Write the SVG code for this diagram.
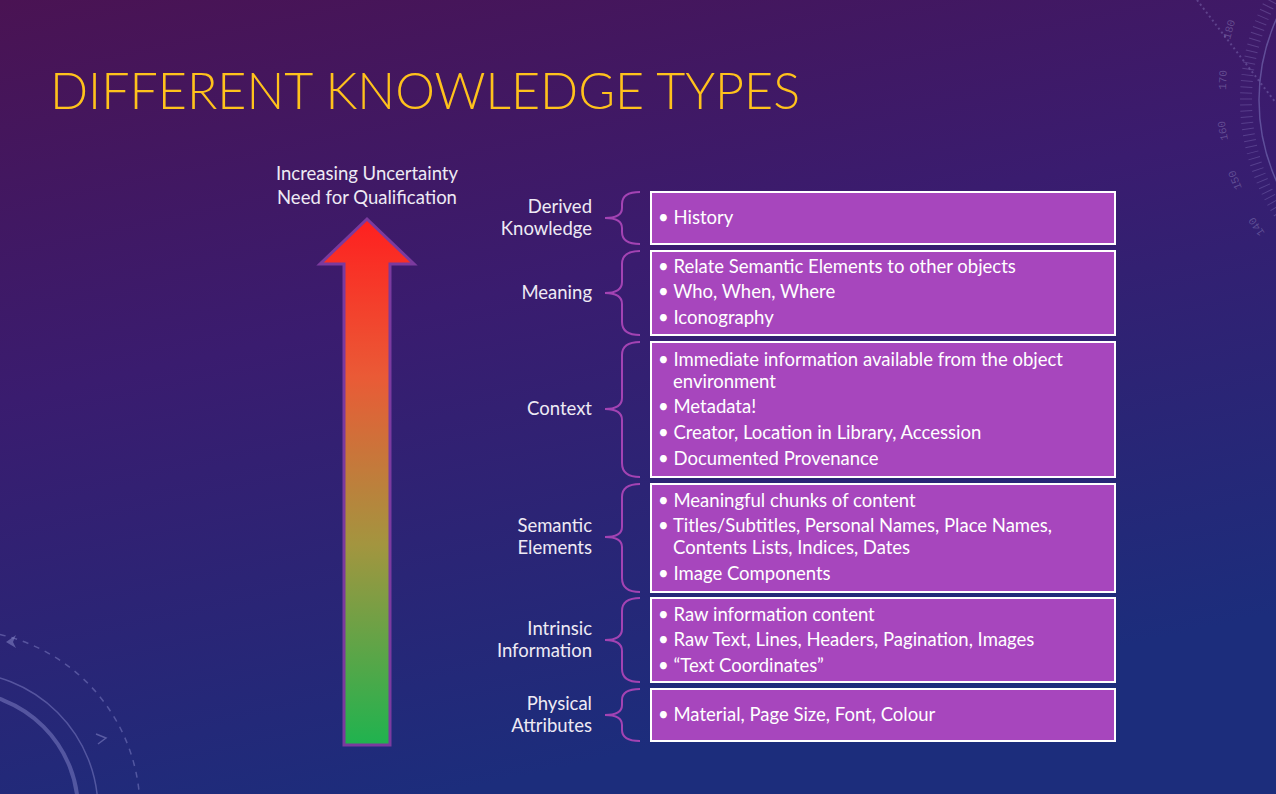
<svg xmlns="http://www.w3.org/2000/svg" width="1276" height="794" viewBox="0 0 1276 794">
<defs>
<linearGradient id="bg" x1="0" y1="0" x2="0.35" y2="1">
<stop offset="0" stop-color="#4a1353"/>
<stop offset="0.45" stop-color="#3a1c6f"/>
<stop offset="1" stop-color="#1c2d7c"/>
</linearGradient>
<linearGradient id="arrowGrad" x1="0" y1="218" x2="0" y2="745" gradientUnits="userSpaceOnUse">
<stop offset="0" stop-color="#ff1f1f"/>
<stop offset="0.3" stop-color="#ea5a36"/>
<stop offset="0.62" stop-color="#a3953f"/>
<stop offset="1" stop-color="#1fb34f"/>
</linearGradient>
<style>
.lbl{font-family:Lato,"Open Sans",sans-serif;font-size:18.5px;fill:#eeeaf4;text-anchor:end}
.txt{font-family:Lato,"Open Sans",sans-serif;font-size:18.5px;fill:#ffffff}
.box{fill:#a746bd;stroke:#ffffff;stroke-width:2}
.brace{fill:none;stroke:#a343b3;stroke-width:2}
.deco{fill:none;stroke:#8f8fd0;stroke-opacity:0.45}
.num{font-family:"Liberation Mono",monospace;font-size:11px;fill:#b0a8d8;fill-opacity:0.35}
</style>
</defs>
<rect width="1276" height="794" fill="url(#bg)"/>
<!-- decorations -->
<g id="decor">
<circle cx="1456" cy="100" r="197" class="deco" stroke-width="1.5"/>
<circle cx="1456" cy="100" r="210" fill="none" stroke="#9a90d0" stroke-opacity="0.3" stroke-width="12" stroke-dasharray="1 5"/>
<line x1="1197" y1="0" x2="1276" y2="103" stroke="#9a90d0" stroke-opacity="0.35" stroke-width="2" stroke-dasharray="2 3"/>
<text class="num" transform="translate(1230,40) rotate(-75)">180</text>
<text class="num" transform="translate(1226,90) rotate(-88)">170</text>
<text class="num" transform="translate(1228,140) rotate(-100)">160</text>
<text class="num" transform="translate(1242,188) rotate(-112)">150</text>
<text class="num" transform="translate(1265,233) rotate(-124)">140</text>
<circle cx="-40" cy="810" r="138" class="deco" stroke-width="1.5"/>
<circle cx="-40" cy="810" r="118" class="deco" stroke-width="4"/>
<circle cx="-40" cy="810" r="180" class="deco" stroke-width="1.5" stroke-dasharray="6 6"/>
<path d="M6,642 L16,635 L13,642 L16,648 Z" fill="#8f8fd0" fill-opacity="0.5"/>
<path d="M96,734 L106,738 L98,744" fill="none" stroke="#8f8fd0" stroke-opacity="0.5" stroke-width="1.5"/>
</g>
<!-- title -->
<text x="50" y="109" font-family="Lato,'Open Sans',sans-serif" font-weight="300" font-size="52" fill="#ffc21c" textLength="750" lengthAdjust="spacingAndGlyphs">DIFFERENT KNOWLEDGE TYPES</text>
<!-- arrow -->
<g id="arrow">
<text class="lbl" x="367" y="180" style="text-anchor:middle">Increasing Uncertainty</text>
<text class="lbl" x="367" y="204" style="text-anchor:middle">Need for Qualification</text>
<path d="M367,219 L414,264 L390,264 L390,745 L344,745 L344,264 L320,264 Z" fill="url(#arrowGrad)" stroke="#7b3a9e" stroke-width="3" stroke-linejoin="miter"/>
</g>
<!-- connectors (braces) -->
<g id="braces">
<path class="brace" d="M640,192 Q622,192 622,204 L622,208 Q622,218 605,218 Q622,218 622,228 L622,232 Q622,244 640,244"/>
<path class="brace" d="M640,251 Q622,251 622,264 L622,282 Q622,293 605,293 Q622,293 622,304 L622,322 Q622,335 640,335"/>
<path class="brace" d="M640,342 Q622,342 622,355 L622,398 Q622,409 605,409 Q622,409 622,420 L622,463 Q622,477 640,477"/>
<path class="brace" d="M640,484 Q622,484 622,497 L622,527 Q622,537 605,537 Q622,537 622,547 L622,578 Q622,592 640,592"/>
<path class="brace" d="M640,598 Q622,598 622,611 L622,629 Q622,640 605,640 Q622,640 622,651 L622,669 Q622,682 640,682"/>
<path class="brace" d="M640,689 Q622,689 622,700 L622,705 Q622,715 605,715 Q622,715 622,725 L622,730 Q622,741 640,741"/>
</g>
<g id="n-derived">
<text class="lbl" x="592" y="213">Derived</text>
<text class="lbl" x="592" y="235">Knowledge</text>
<rect class="box" x="651" y="192" width="464" height="52"/>
<text class="txt" x="658" y="224">• History</text>
</g>
<g id="n-meaning">
<text class="lbl" x="592" y="299">Meaning</text>
<rect class="box" x="651" y="251" width="464" height="84"/>
<text class="txt" x="658" y="273">• Relate Semantic Elements to other objects</text>
<text class="txt" x="658" y="298">• Who, When, Where</text>
<text class="txt" x="658" y="324">• Iconography</text>
</g>
<g id="n-context">
<text class="lbl" x="592" y="415">Context</text>
<rect class="box" x="651" y="342" width="464" height="135"/>
<text class="txt" x="658" y="366">• Immediate information available from the object</text>
<text class="txt" x="673" y="388">environment</text>
<text class="txt" x="658" y="413">• Metadata!</text>
<text class="txt" x="658" y="439">• Creator, Location in Library, Accession</text>
<text class="txt" x="658" y="465">• Documented Provenance</text>
</g>
<g id="n-semantic">
<text class="lbl" x="592" y="532">Semantic</text>
<text class="lbl" x="592" y="554">Elements</text>
<rect class="box" x="651" y="484" width="464" height="108"/>
<text class="txt" x="658" y="507">• Meaningful chunks of content</text>
<text class="txt" x="658" y="532">• Titles/Subtitles, Personal Names, Place Names,</text>
<text class="txt" x="673" y="554">Contents Lists, Indices, Dates</text>
<text class="txt" x="658" y="580">• Image Components</text>
</g>
<g id="n-intrinsic">
<text class="lbl" x="592" y="635">Intrinsic</text>
<text class="lbl" x="592" y="657">Information</text>
<rect class="box" x="651" y="598" width="464" height="84"/>
<text class="txt" x="658" y="621">• Raw information content</text>
<text class="txt" x="658" y="646">• Raw Text, Lines, Headers, Pagination, Images</text>
<text class="txt" x="658" y="672">• “Text Coordinates”</text>
</g>
<g id="n-physical">
<text class="lbl" x="592" y="710">Physical</text>
<text class="lbl" x="592" y="732">Attributes</text>
<rect class="box" x="651" y="689" width="464" height="52"/>
<text class="txt" x="658" y="721">• Material, Page Size, Font, Colour</text>
</g>
</svg>
